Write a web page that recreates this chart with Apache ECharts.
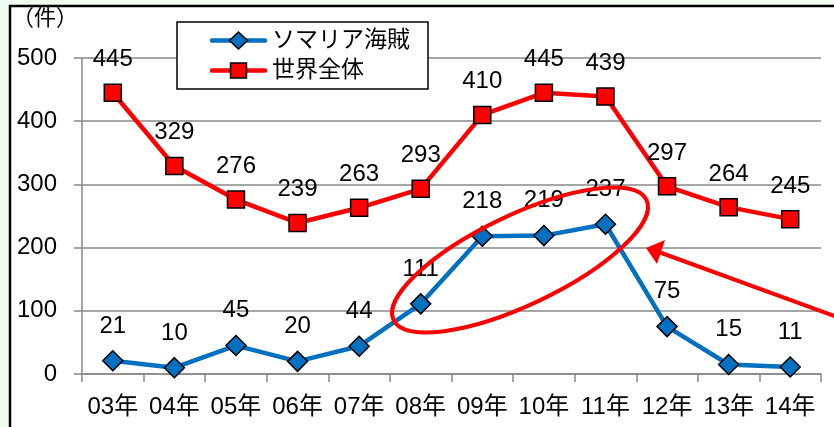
<!DOCTYPE html>
<html>
<head>
<meta charset="utf-8">
<script src="https://cdn.jsdelivr.net/npm/echarts@6/dist/echarts.min.js"></script>
<style>
  html, body { margin: 0; padding: 0; background: #f0fdf0; }
  #chart { width: 834px; height: 427px; }
</style>
</head>
<body>
<div id="chart"></div>
<script>
// 年別の海賊事件発生件数
const years = ['03年', '04年', '05年', '06年', '07年', '08年', '09年', '10年', '11年', '12年', '13年', '14年'];
const somalia = [21, 10, 45, 20, 44, 111, 218, 219, 237, 75, 15, 11];
const world = [445, 329, 276, 239, 263, 293, 410, 445, 439, 297, 264, 245];
const yTicks = { min: 0, max: 500, interval: 100 };

const FONT = "'Liberation Sans', Arial, 'Noto Sans CJK JP', sans-serif";
const BLUE = '#0070C0';
const RED = '#FF0000';

// 凡例アイコン（太線＋マーカー）をSVGで作る
function legendIcon(color, marker) {
  const shape = marker === 'diamond'
    ? '<polygon points="28.5,1.5 37.5,10 28.5,18.5 19.5,10" fill="' + color + '" stroke="#000" stroke-width="1.5"/>'
    : '<rect x="20.5" y="2.5" width="16" height="15" fill="' + color + '" stroke="#000" stroke-width="1.5"/>';
  const svg = '<svg xmlns="http://www.w3.org/2000/svg" width="57" height="20" viewBox="0 0 57 20">' +
    '<line x1="2" y1="10" x2="55" y2="10" stroke="' + color + '" stroke-width="4.5" stroke-linecap="round"/>' +
    shape + '</svg>';
  return 'image://data:image/svg+xml;charset=utf-8,' + encodeURIComponent(svg);
}

const chart = echarts.init(document.getElementById('chart'), null, { renderer: 'canvas' });

const labelStyle = {
  show: true,
  position: 'top',
  distance: 12,
  color: '#000',
  fontSize: 24,
  fontFamily: FONT
};

chart.setOption({
  animation: false,
  backgroundColor: 'transparent',
  grid: { left: 82, right: 13, top: 58, bottom: 53 },
  legend: {
    orient: 'vertical',
    left: 177,
    top: 22,
    padding: [7, 18, 7, 33],
    itemGap: 7,
    itemWidth: 57,
    itemHeight: 20,
    borderColor: '#000',
    borderWidth: 1.5,
    backgroundColor: '#fff',
    textStyle: { color: '#000', fontSize: 23, fontFamily: FONT },
    data: [
      { name: 'ソマリア海賊', icon: legendIcon(BLUE, 'diamond') },
      { name: '世界全体', icon: legendIcon(RED, 'rect') }
    ]
  },
  xAxis: {
    type: 'category',
    data: years,
    boundaryGap: true,
    axisLine: { lineStyle: { color: '#888', width: 1.5 } },
    axisTick: { show: true, length: 8, lineStyle: { color: '#888', width: 1.5 } },
    axisLabel: { interval: 0, color: '#000', fontSize: 24, fontFamily: FONT, margin: 21 }
  },
  yAxis: {
    type: 'value',
    min: yTicks.min,
    max: yTicks.max,
    interval: yTicks.interval,
    axisLine: { show: true, lineStyle: { color: '#888', width: 1.5 } },
    axisTick: { show: true, length: 8, lineStyle: { color: '#888', width: 1.5 } },
    splitLine: { lineStyle: { color: '#888', width: 1.5 } },
    axisLabel: { color: '#000', fontSize: 24, fontFamily: FONT, margin: 25 }
  },
  series: [
    {
      name: 'ソマリア海賊',
      type: 'line',
      data: somalia,
      z: 3,
      symbol: 'diamond',
      symbolSize: 20,
      lineStyle: { color: BLUE, width: 4.5 },
      itemStyle: { color: BLUE, borderColor: '#000', borderWidth: 1.5 },
      label: labelStyle
    },
    {
      name: '世界全体',
      type: 'line',
      data: world,
      z: 2,
      symbol: 'rect',
      symbolSize: 17,
      lineStyle: { color: RED, width: 4.5 },
      itemStyle: { color: RED, borderColor: '#000', borderWidth: 1.5 },
      label: labelStyle
    }
  ]
});

// 枠・単位・注目範囲の楕円と矢印
chart.setOption({
  graphic: [
    {
      type: 'rect', z: -10, silent: true,
      shape: { x: 10, y: 6, width: 840, height: 440 },
      style: { fill: '#fff', stroke: '#000', lineWidth: 2.5 }
    },
    {
      type: 'text', left: 12, top: 6, z: 10,
      style: { text: '（件）', fill: '#000', font: "22px 'Noto Sans CJK JP', sans-serif" }
    },
    {
      type: 'ellipse', z: 20, silent: true,
      x: 520, y: 260, rotation: 0.443,
      shape: { cx: 0, cy: 0, rx: 140, ry: 45 },
      style: { fill: 'none', stroke: RED, lineWidth: 4 }
    },
    {
      type: 'line', z: 20, silent: true,
      shape: { x1: 840, y1: 318, x2: 656, y2: 251 },
      style: { stroke: RED, lineWidth: 4 }
    },
    {
      type: 'polygon', z: 20, silent: true,
      shape: { points: [[646, 248], [665, 240], [657, 264]] },
      style: { fill: RED }
    }
  ]
});
</script>
</body>
</html>
